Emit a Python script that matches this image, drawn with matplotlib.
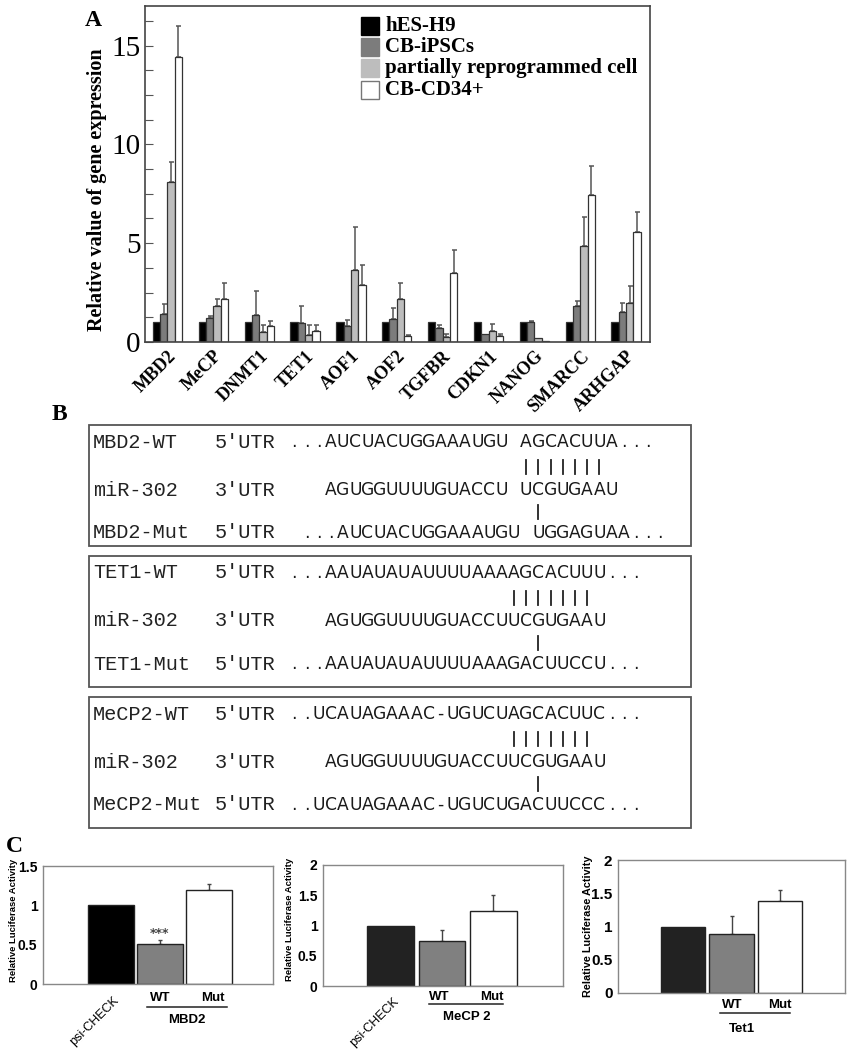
import numpy as np
import matplotlib
matplotlib.use("Agg")
import matplotlib.pyplot as plt
from matplotlib.patches import Rectangle

W, H = 851, 1050

# ---- panel A data ----
genes = ["MBD2", "MeCP", "DNMT1", "TET1", "AOF1", "AOF2", "TGFBR", "CDKN1", "NANOG", "SMARCC", "ARHGAP"]
series_names = ["hES-H9", "CB-iPSCs", "partially reprogrammed cell", "CB-CD34+"]
hes_h9 = [1.0, 1.0, 1.0, 1.0, 1.0, 1.0, 1.0, 1.0, 1.0, 1.0, 1.0]
hes_h9_err = [0, 0, 0, 0, 0, 0, 0, 0, 0, 0, 0]
cb_ipsc = [1.42, 1.23, 1.39, 0.96, 0.82, 1.16, 0.70, 0.40, 1.02, 1.84, 1.52]
cb_ipsc_err = [0.49, 0.07, 1.19, 0.85, 0.28, 0.55, 0.16, 0.0, 0.03, 0.22, 0.44]
partial = [8.07, 1.81, 0.51, 0.37, 3.62, 2.20, 0.25, 0.58, 0.18, 4.88, 1.99]
partial_err = [1.05, 0.39, 0.37, 0.51, 2.20, 0.77, 0.13, 0.31, 0.0, 1.42, 0.86]
cb_cd34 = [14.44, 2.18, 0.81, 0.54, 2.88, 0.28, 3.47, 0.32, 0.03, 7.45, 5.57]
cb_cd34_err = [1.56, 0.78, 0.24, 0.34, 1.01, 0.07, 1.20, 0.08, 0.0, 1.48, 1.03]

# ---- panel B sequences ----
seq_boxes = [
    dict(wt_label="MBD2-WT", mut_label="MBD2-Mut",
         wt=(16, "...AUCUACUGGAAAUGU AGCACUUA..."),
         mir=(19, "AGUGGUUUUGUACCU UCGUGAAU"),
         mut=(17, "...AUCUACUGGAAAUGU UGGAGUAA..."),
         pairs=(35, 7), single=36),
    dict(wt_label="TET1-WT", mut_label="TET1-Mut",
         wt=(16, "...AAUAUAUAUUUUAAAAGCACUUU..."),
         mir=(19, "AGUGGUUUUGUACCUUCGUGAAU"),
         mut=(16, "...AAUAUAUAUUUUAAAGACUUCCU..."),
         pairs=(34, 7), single=36),
    dict(wt_label="MeCP2-WT", mut_label="MeCP2-Mut",
         wt=(16, "..UCAUAGAAAC-UGUCUAGCACUUC..."),
         mir=(19, "AGUGGUUUUGUACCUUCGUGAAU"),
         mut=(16, "..UCAUAGAAAC-UGUCUGACUUCCC..."),
         pairs=(34, 7), single=36),
]

# ---- panel C data ----
luc_groups = ["psi-CHECK", "WT", "Mut"]
luc_mbd2 = [1.0, 0.51, 1.20]
luc_mbd2_err = [0, 0.05, 0.07]
luc_mecp2 = [1.0, 0.74, 1.24]
luc_mecp2_err = [0, 0.18, 0.26]
luc_tet1 = [1.0, 0.88, 1.38]
luc_tet1_err = [0, 0.28, 0.17]

fig = plt.figure(figsize=(W / 100, H / 100), dpi=100)

# overlay in pixel coords for labels / boxes, drawn on top of everything
ov = fig.add_axes([0, 0, 1, 1])
ov.set_xlim(0, W); ov.set_ylim(H, 0); ov.axis("off")
ov.set_zorder(10)


def add_px_axes(l, t, r, b):
    return fig.add_axes([l / W, 1 - b / H, (r - l) / W, (b - t) / H])


SERIF = "Liberation Serif"
SANS = "Liberation Sans"

# ================= panel A =================
axA = add_px_axes(145, 6, 650, 342)
x = np.arange(len(genes))
bw = 0.16
colors = ["#000000", "#7c7c7c", "#bdbdbd", "#ffffff"]
vals_all = [hes_h9, cb_ipsc, partial, cb_cd34]
errs_all = [hes_h9_err, cb_ipsc_err, partial_err, cb_cd34_err]
for k in range(4):
    xs = x + (k - 1.5) * bw
    axA.bar(xs, vals_all[k], bw, color=colors[k], edgecolor="#333333", linewidth=0.9, zorder=2)
    v = np.array(vals_all[k]); e = np.array(errs_all[k])
    m = e > 0
    axA.errorbar(xs[m], v[m], yerr=[np.zeros(m.sum()), e[m]], fmt="none",
                 ecolor="#555555", elinewidth=1.1, capsize=1.8, capthick=1.1, zorder=1)
axA.set_xlim(-0.49, 10.52)
axA.set_ylim(0, 17)
axA.set_yticks([0, 5, 10, 15])
axA.set_yticks(np.arange(0, 17, 1.25), minor=True)
axA.tick_params(axis="y", which="both", direction="in", length=6, width=0.8, color="#555555")
axA.tick_params(axis="y", which="major", labelsize=21, pad=3)
for t in axA.get_yticklabels():
    t.set_family(SERIF)
axA.set_xticks(x)
axA.set_xticklabels(genes, rotation=45, ha="right", rotation_mode="anchor",
                    fontsize=13, fontweight="bold", family=SERIF)
axA.tick_params(axis="x", length=0, pad=4)
for s in axA.spines.values():
    s.set_color("#444444"); s.set_linewidth(1.2)
ov.text(97, 190, "Relative value of gene expression", rotation=90, ha="center", va="center",
        fontsize=14.5, fontweight="bold", family=SERIF)

# legend
leg_tops = [17, 38, 59, 81]
leg_edges = ["#000000", "#7c7c7c", "#bdbdbd", "#777777"]
for k in range(4):
    ov.add_patch(Rectangle((361, leg_tops[k]), 18, 18, facecolor=colors[k],
                           edgecolor=leg_edges[k], linewidth=1))
    ov.text(385, leg_tops[k] + 9, series_names[k], ha="left", va="center",
            fontsize=15, fontweight="bold", family=SERIF)

ov.text(93, 21, "A", ha="center", va="center", fontsize=17, fontweight="bold", family=SERIF)

# ================= panel B =================
ov.text(59, 415, "B", ha="center", va="center", fontsize=17, fontweight="bold", family=SERIF)
box_y = [(425, 546), (556, 687), (697, 828)]
row_dy = [17, 42, 65, 87, 108]
x0, cw = 93, 12.2
MONO = ["Liberation Mono", "DejaVu Sans Mono"]


def cell_text(col, s, y):
    for i, ch in enumerate(s):
        if ch == " ":
            continue
        ov.text(x0 + (col + i + 0.5) * cw, y, ch, ha="center", va="center",
                fontsize=12.3, family="DejaVu Sans", color="#1a1a1a")


for (top, bot), bx in zip(box_y, seq_boxes):
    ov.add_patch(Rectangle((89, top), 691 - 89, bot - top, facecolor="none",
                           edgecolor="#555555", linewidth=1.3))
    ys = [top + d for d in row_dy]
    labels = [bx["wt_label"], "miR-302", bx["mut_label"]]
    utrs = ["5\u2032UTR", "3\u2032UTR", "5\u2032UTR"]
    for lab, utr, y in zip(labels, utrs, [ys[0], ys[2], ys[4]]):
        ov.text(x0, y, lab, ha="left", va="center", fontsize=14.6, family=MONO, color="#222222")
        ov.text(x0 + 10 * cw, y, utr, ha="left", va="center", fontsize=14.6, family=MONO, color="#222222")
    cell_text(*bx["wt"], ys[0])
    cell_text(*bx["mir"], ys[2])
    cell_text(*bx["mut"], ys[4])
    c0, n = bx["pairs"]
    for c in range(c0, c0 + n):
        xc = x0 + (c + 0.5) * cw
        ov.plot([xc, xc], [ys[1] - 7, ys[1] + 7], color="#222222", lw=1.3)
    xc = x0 + (bx["single"] + 0.5) * cw
    ov.plot([xc, xc], [ys[3] - 7, ys[3] + 7], color="#222222", lw=1.3)

# ================= panel C =================
ov.text(14, 846, "C", ha="center", va="center", fontsize=17, fontweight="bold", family=SERIF)


def luc_panel(rect, xlim, width, vals, errs, ylim, yticks, first_color, tick_fs, ylab_fs,
              ylab_pos, psi_anchor, wt_mut, line, gene_pos, gene):
    ax = add_px_axes(*rect)
    xs = np.arange(3)
    cols = [first_color, "#808080", "#ffffff"]
    ax.bar(xs, vals, width, color=cols, edgecolor="#222222", linewidth=1.0, zorder=2)
    e = np.array(errs)
    ax.errorbar(xs[1:], np.array(vals)[1:], yerr=[np.zeros(2), e[1:]], fmt="none",
                ecolor="#444444", elinewidth=1.0, capsize=1.5, zorder=1)
    ax.set_xlim(*xlim)
    ax.set_ylim(*ylim)
    ax.set_yticks(yticks)
    ax.set_yticklabels([("%g" % t) for t in yticks], fontsize=tick_fs, fontweight="bold", family=SANS)
    ax.tick_params(axis="y", length=0, pad=4)
    ax.set_xticks([])
    for s in ax.spines.values():
        s.set_color("#888888"); s.set_linewidth(1.0)
    ov.text(ylab_pos[0], ylab_pos[1], "Relative Luciferase Activity", rotation=90,
            ha="center", va="center", fontsize=ylab_fs, fontweight="bold", family=SANS)
    if psi_anchor is not None:
        ov.text(psi_anchor[0], psi_anchor[1], luc_groups[0], rotation=45, ha="right", va="top",
                rotation_mode="anchor", fontsize=9, family=SANS)
    for lab, (px, py) in zip(luc_groups[1:], wt_mut):
        ov.text(px, py, lab, ha="center", va="center", fontsize=9.5, fontweight="bold", family=SANS)
    ov.plot([line[0], line[1]], [line[2], line[2]], color="#222222", lw=1.1)
    ov.text(gene_pos[0], gene_pos[1], gene, ha="center", va="center", fontsize=9.5,
            fontweight="bold", family=SANS)
    return ax


axC1 = luc_panel((43, 866, 273, 984), (-1.39, 3.31), 0.94, luc_mbd2, luc_mbd2_err, (0, 1.5),
                 [0, 0.5, 1, 1.5], "#000000", 10, 6.8, (14, 920), (113, 994),
                 [(160, 998), (213, 998)], (147, 227, 1007), (187, 1020), "MBD2")
axC1.text(1, 0.64, "***", ha="center", va="center", fontsize=9, fontweight="bold", color="#444444")

luc_panel((323, 865, 563, 986), (-1.31, 3.35), 0.91, luc_mecp2, luc_mecp2_err, (0, 2),
          [0, 0.5, 1, 1.5, 2], "#222222", 10, 6.8, (290, 919), (393, 995),
          [(439, 997), (492, 997)], (429, 503, 1004), (467, 1017), "MeCP 2")

luc_panel((618, 860, 845, 993), (-1.34, 3.34), 0.91, luc_tet1, luc_tet1_err, (0, 2),
          [0, 0.5, 1, 1.5, 2], "#222222", 11, 7.8, (588, 926), None,
          [(732, 1005), (780, 1005)], (720, 790, 1013), (742, 1029), "Tet1")

fig.savefig("out.png", dpi=100)
